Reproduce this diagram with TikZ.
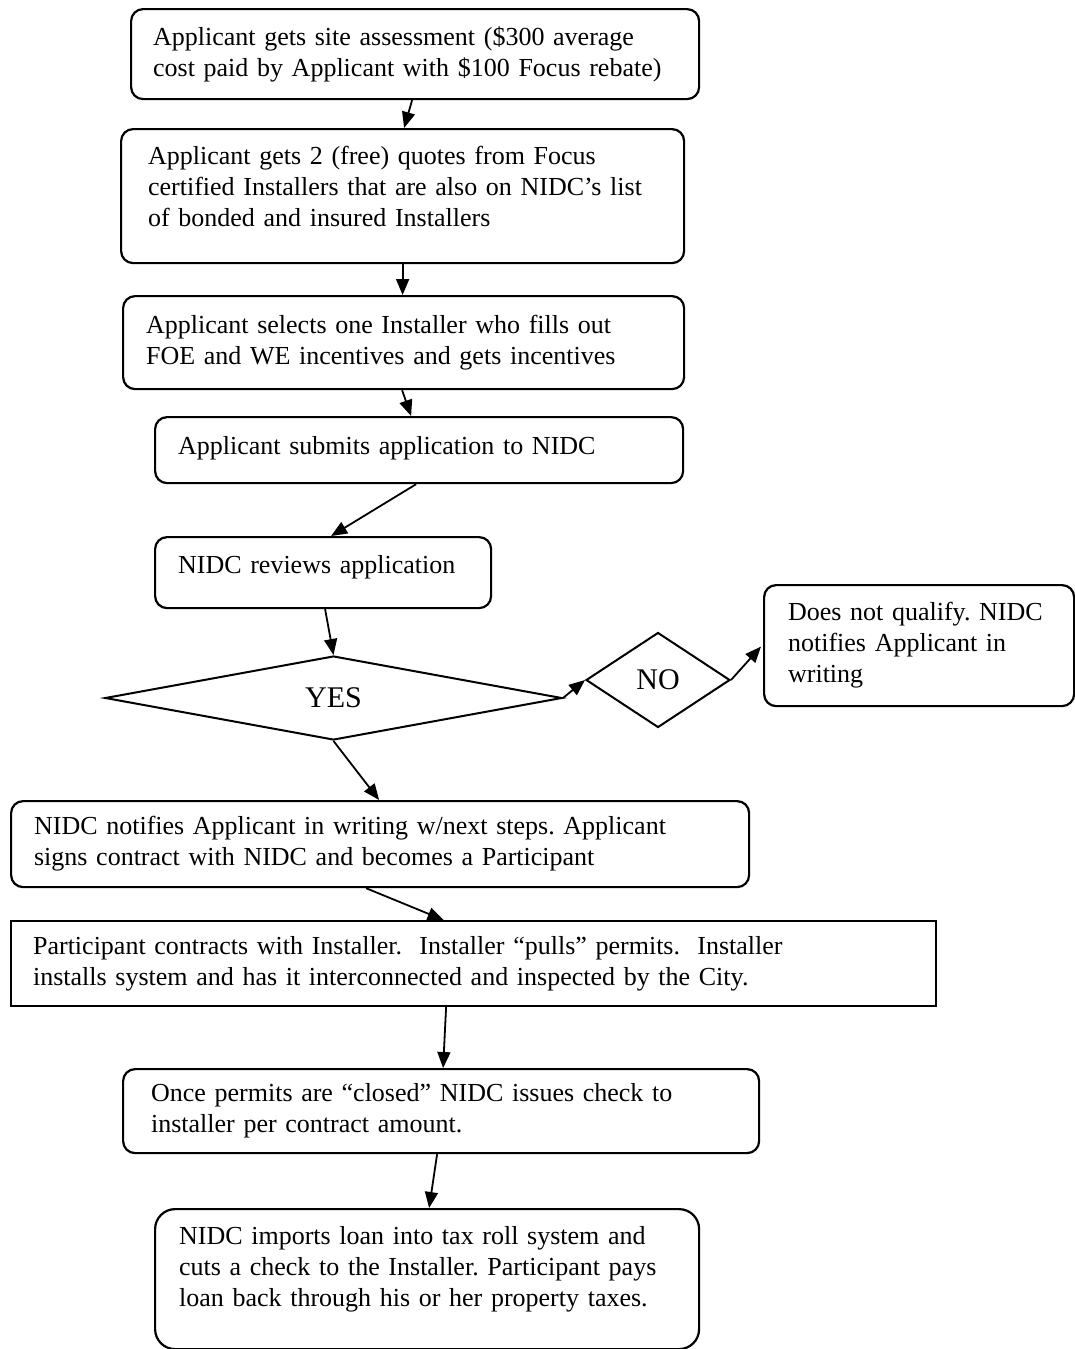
\documentclass[tikz,border=0pt]{standalone}
\usepackage{fontspec}
\setmainfont{Liberation Serif}
\usetikzlibrary{arrows.meta,shapes.geometric}
\newcommand\boxfont{\fontsize{26pt}{31pt}\selectfont\frenchspacing}
\newcommand\dstrut[1]{\rule[-#1]{0pt}{#1}}
\begin{document}
\begin{tikzpicture}[x=1pt,y=-1pt,
  box/.style={draw, line width=2.2pt, rounded corners=12pt, anchor=north west,
    align=left, inner ysep=0pt, font=\boxfont},
  sqbox/.style={box, rounded corners=0pt},
  dec/.style={draw, line width=2pt, diamond, inner sep=0pt, font=\fontsize{30pt}{34pt}\selectfont},
  arr/.style={line width=1.8pt, -{Triangle[length=16pt,width=13pt]}}]
\useasboundingbox (0,0) rectangle (1074,1349);

\node[box, minimum width=568pt, minimum height=90pt, text width=524pt, inner xsep=22pt] (b1) at (130,8)
  {Applicant gets site assessment (\$300 average\\cost paid by Applicant with \$100 Focus rebate)};
\node[box, minimum width=563pt, minimum height=134pt, text width=509pt, inner xsep=27pt] (b2) at (120,128)
  {Applicant gets 2 (free) quotes from Focus\\certified Installers that are also on NIDC’s list\\of bonded and insured Installers\dstrut{20pt}};
\node[box, minimum width=561pt, minimum height=93pt, text width=515pt, inner xsep=23pt] (b3) at (122,295)
  {Applicant selects one Installer who fills out\\FOE and WE incentives and gets incentives};
\node[box, minimum width=528pt, minimum height=66pt, text width=482pt, inner xsep=23pt] (b4) at (154,416)
  {Applicant submits application to NIDC\dstrut{10pt}};
\node[box, minimum width=336pt, minimum height=71pt, text width=290pt, inner xsep=23pt] (b5) at (154,536)
  {NIDC reviews application\dstrut{16pt}};

\node[dec, minimum width=457pt, minimum height=84pt] (yes) at (333.5,698) {YES};
\node[dec, minimum width=144pt, minimum height=95pt] (no) at (658,680) {NO};
\node[box, minimum width=310pt, minimum height=121pt, text width=262pt, inner xsep=24pt] (b6) at (763,584)
  {Does not qualify. NIDC\\notifies Applicant in\\writing};

\node[box, minimum width=738pt, minimum height=86pt, text width=692pt, inner xsep=23pt] (b7) at (10,800)
  {NIDC notifies Applicant in writing w/next steps. Applicant\\signs contract with NIDC and becomes a Participant};
\node[sqbox, minimum width=925pt, minimum height=85pt, text width=881pt, inner xsep=22pt] (b8) at (10,920)
  {Participant contracts with Installer.\ \ Installer “pulls” permits.\ \ Installer\\installs system and has it interconnected and inspected by the City.};
\node[box, minimum width=636pt, minimum height=84pt, text width=580pt, inner xsep=28pt] (b9) at (122,1068)
  {Once permits are “closed” NIDC issues check to\\installer per contract amount.};
\node[box, minimum width=544pt, minimum height=140pt, text width=496pt, inner xsep=24pt, rounded corners=20pt] (b10) at (154,1208)
  {NIDC imports loan into tax roll system and\\cuts a check to the Installer. Participant pays\\loan back through his or her property taxes.\dstrut{26pt}};

\draw[arr] ([xshift=-3pt]b1.south) -- ([xshift=1.5pt]b2.north);
\draw[arr] (b2.south) -- (b2.south |- b3.north);
\draw[arr] ([xshift=-1.5pt]b3.south) -- ([xshift=-8pt]b4.north);
\draw[arr] ([xshift=-3pt]b4.south) -- ([xshift=8pt]b5.north);
\draw[arr] ([xshift=2pt]b5.south) -- (yes.north);
\draw[arr] (yes.south) -- ([xshift=-1pt]b7.north);
\draw[arr] ([xshift=-14pt]b7.south) -- ([xshift=-30pt]b8.north);
\draw[arr] ([xshift=-27.5pt]b8.south) -- ([xshift=2pt]b9.north);
\draw[arr] ([xshift=-4pt]b9.south) -- ([xshift=2pt]b10.north);
\draw[arr] (yes.east) -- (no.west);
\draw[arr] (no.east) -- ([xshift=-2pt,yshift=-1pt]b6.west);
\end{tikzpicture}
\end{document}
